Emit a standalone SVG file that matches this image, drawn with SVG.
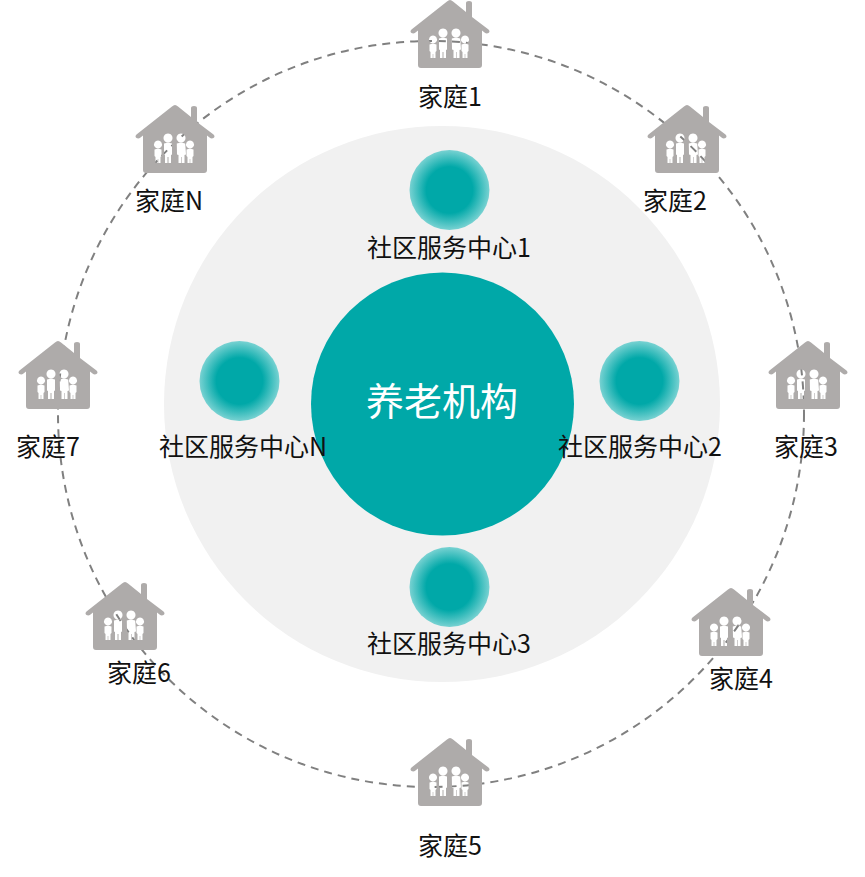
<svg xmlns="http://www.w3.org/2000/svg" xmlns:xlink="http://www.w3.org/1999/xlink" width="865" height="877" viewBox="0 0 865 877">
<style>
text{font-family:"Noto Sans CJK SC","Noto Sans",sans-serif;font-size:25px;fill:#111;text-anchor:middle}
.house{fill:#aeabaa;fill-rule:evenodd}
.dash{fill:none;stroke:#808080;stroke-width:2;stroke-dasharray:8 6}
</style>
<defs>
<radialGradient id="g"><stop offset="0.58" stop-color="#00a8a8"/><stop offset="1" stop-color="#78d2d2"/></radialGradient>
<path id="h" d="M0,0Q1.500,0 3,1.500L16,12V3Q16,1 19,1Q22,1 22,3V17L38.500,29.500Q40.500,31.500 38.500,33Q36.500,34 34.500,32.500L32,30.500V65Q32,68 29,68H-29Q-32,68 -32,65V30.500L-34.500,32.500Q-36.500,34 -38.500,33Q-40.500,31.500 -38.500,29.500L-3,1.500Q-1.500,0 0,0Z
M-17,35.500a4,4 0 1 0 .01,0ZM-20.500,44.500q3.500,-1.500 7,0v6.500l-1,1v6h-2.200v-4h-.6v4h-2.200v-6l-1,-1Z
M-7,28.500a4.500,4.500 0 1 0 .01,0ZM-11,38.500q4,-1.500 8,0v11l-1,.5v8h-2.500v-6h-1v6h-2.500v-8l-1,-.5Z
M6,28.500a4.500,4.500 0 1 0 .01,0ZM1.800,38.500q4.200,-1.500 8.400,0l.8,11l-1.500,.5v8h-2.700v-6h-.6v6h-2.700v-8l-1.500,-.5Z
M15,35.500a4,4 0 1 0 .01,0ZM11.500,44.500q3.500,-1.500 7,0v6.500l-1,1v6h-2.200v-4h-.6v4h-2.200v-6l-1,-1Z"/>
</defs>
<circle id="bg" cx="442" cy="404" r="278" fill="#f1f1f1"/>
<g id="connectors"><circle class="dash" cx="431" cy="414" r="373"/></g>
<g id="center"><circle cx="442.500" cy="404" r="131.500" fill="#00a8a8"/><text x="442" y="415" style="font-size:38px;fill:#fff">养老机构</text></g>
<g id="s1"><circle cx="449.500" cy="190" r="40" fill="url(#g)"/><text x="449" y="257">社区服务中心1</text></g>
<g id="s2"><circle cx="639.500" cy="381" r="40" fill="url(#g)"/><text x="640" y="456">社区服务中心2</text></g>
<g id="s3"><circle cx="449.500" cy="587" r="40" fill="url(#g)"/><text x="449" y="653">社区服务中心3</text></g>
<g id="sN"><circle cx="239.500" cy="381" r="40" fill="url(#g)"/><text x="243" y="456">社区服务中心N</text></g>
<g id="f1"><use xlink:href="#h" class="house" x="450" y="0"/><text x="450" y="106">家庭1</text></g>
<g id="f2"><use xlink:href="#h" class="house" x="687" y="105"/><text x="675" y="210">家庭2</text></g>
<g id="f3"><use xlink:href="#h" class="house" x="808" y="341"/><text x="806" y="456">家庭3</text></g>
<g id="f4"><use xlink:href="#h" class="house" x="731" y="588"/><text x="741" y="688">家庭4</text></g>
<g id="f5"><use xlink:href="#h" class="house" x="450" y="738"/><text x="450" y="855">家庭5</text></g>
<g id="f6"><use xlink:href="#h" class="house" x="125" y="582"/><text x="139" y="682">家庭6</text></g>
<g id="f7"><use xlink:href="#h" class="house" x="58" y="341"/><text x="48" y="456">家庭7</text></g>
<g id="fN"><use xlink:href="#h" class="house" x="175" y="105"/><text x="169" y="210">家庭N</text></g>
</svg>
